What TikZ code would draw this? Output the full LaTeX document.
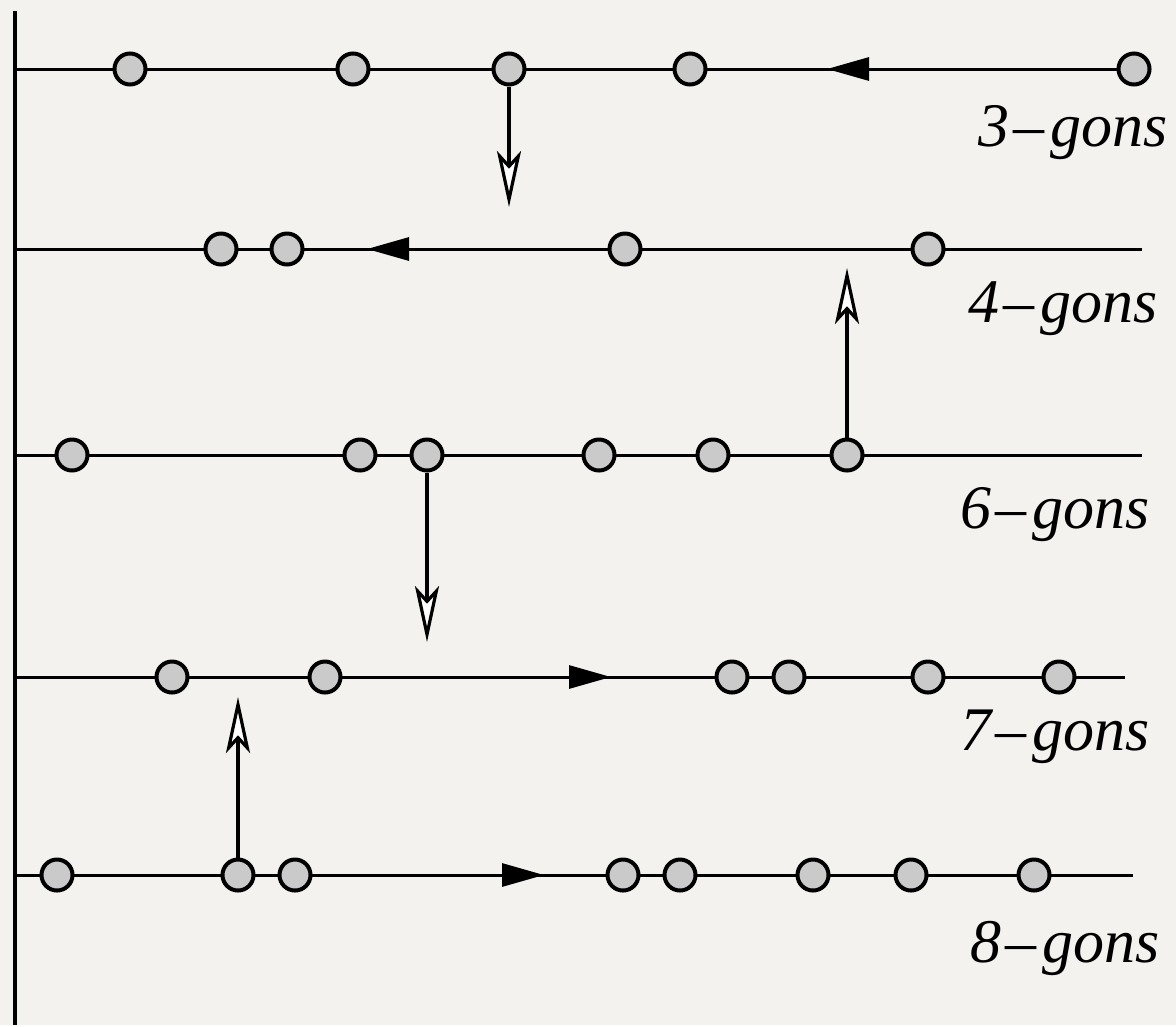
\documentclass[tikz,border=0pt]{standalone}
\usepackage{fontspec}
\newfontfamily\gonfont{Liberation Serif}
\usetikzlibrary{arrows.meta}
\definecolor{paper}{HTML}{F4F2EE}
\definecolor{dotgray}{HTML}{CACACA}

\begin{document}
\begin{tikzpicture}[x=0.5pt,y=0.5pt,yscale=-1,xscale=1,
  dot/.style={circle,draw,line width=2pt,fill=dotgray,minimum size=15.5pt,inner sep=0pt},
  row/.style={line width=1.5pt},
  flow/.style={line width=1.5pt,-{Triangle[length=21pt,width=11.5pt]}},
  jump/.style={line width=1.6pt,-{Stealth[length=28pt,width=12pt,inset=6.5pt,fill=white]}},
  gon/.style={anchor=base east,inner sep=0pt,font=\gonfont\fontsize{31}{31}\selectfont\itshape}]
%set diagram size 1176 x 1025
\fill[paper] (0,0) rectangle (1176,1025);

%Axis
\coordinate (axtop) at (15,11);
\coordinate (axbot) at (15,1025);
\draw[line width=1.75pt] (axtop) -- (axbot);

%Lines
\coordinate (a3) at (15,69);  \coordinate (e3) at (1150,69);
\coordinate (a4) at (15,249); \coordinate (e4) at (1142,249);
\coordinate (a6) at (15,455); \coordinate (e6) at (1142,455);
\coordinate (a7) at (15,677); \coordinate (e7) at (1125,677);
\coordinate (a8) at (15,875); \coordinate (e8) at (1133,875);
\foreach \r in {3,4,6,7,8}
  \draw[row] (a\r) -- (e\r);

%Flow arrow heads
\coordinate (f3s) at (870,69);  \coordinate (f3t) at (827,69);
\coordinate (f4s) at (410,249); \coordinate (f4t) at (367,249);
\coordinate (f7s) at (568,677); \coordinate (f7t) at (611,677);
\coordinate (f8s) at (501,875); \coordinate (f8t) at (544,875);
\foreach \r in {3,4,7,8}
  \draw[flow] (f\r s) -- (f\r t);

%Circles
\foreach \x [count=\i] in {130,353,509,690,1134}
  \node[dot] (p3-\i) at (\x,69) {};
\foreach \x [count=\i] in {221,287,625,928}
  \node[dot] (p4-\i) at (\x,249) {};
\foreach \x [count=\i] in {72,360,427,599,713,847}
  \node[dot] (p6-\i) at (\x,455) {};
\foreach \x [count=\i] in {172,325,732,789,928,1059}
  \node[dot] (p7-\i) at (\x,677) {};
\foreach \x [count=\i] in {57,238,295,623,680,813,911,1034}
  \node[dot] (p8-\i) at (\x,875) {};

%Jumps
\coordinate (t3) at (509,207);
\coordinate (t4) at (847,268);
\coordinate (t6) at (427,642);
\coordinate (t7) at (238,697);
\draw[jump] (p3-3) -- (t3);
\draw[jump] (p6-6) -- (t4);
\draw[jump] (p6-3) -- (t6);
\draw[jump] (p8-2) -- (t7);

% Text Node
\node[gon] (l3) at (1168,146) {3\kern2pt–\kern3pt gons};
\node[gon] (l4) at (1158,322) {4\kern2pt–\kern3pt gons};
\node[gon] (l6) at (1150,528) {6\kern2pt–\kern3pt gons};
\node[gon] (l7) at (1150,750) {7\kern2pt–\kern3pt gons};
\node[gon] (l8) at (1160,962) {8\kern2pt–\kern3pt gons};
\end{tikzpicture}
\end{document}
